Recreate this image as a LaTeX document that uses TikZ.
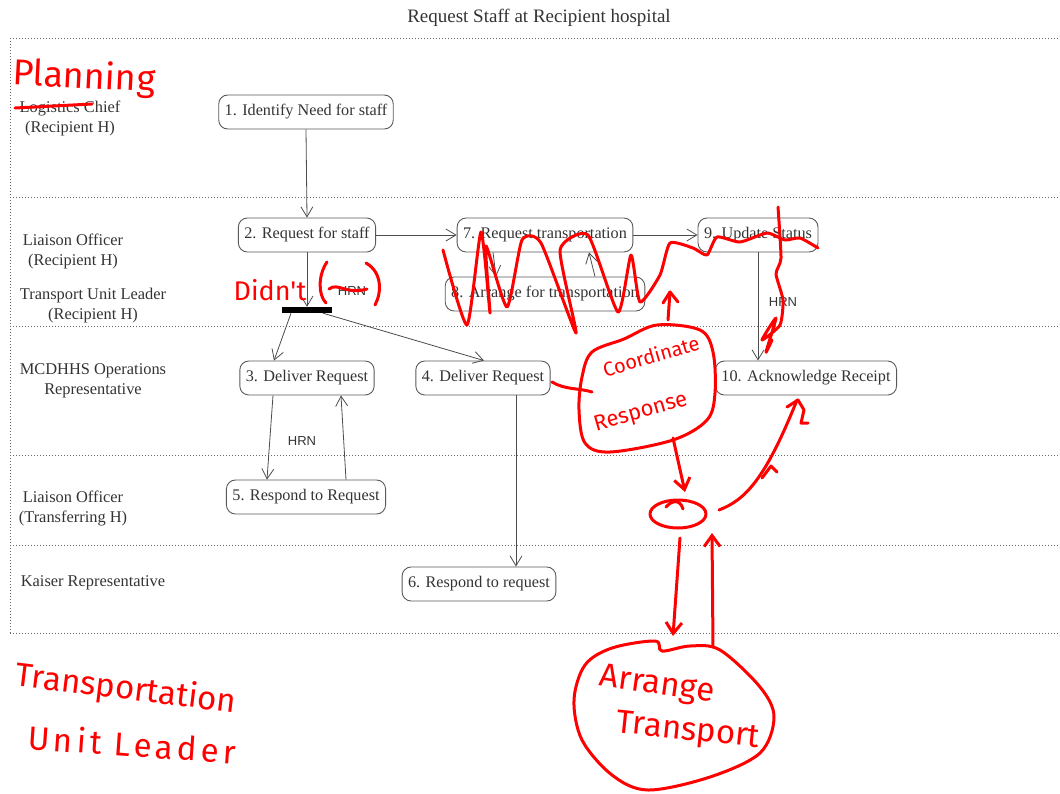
\documentclass[tikz,border=0pt]{standalone}
\usepackage{fontspec}
\setmainfont{Liberation Serif}
\setsansfont{Liberation Sans}
\newfontfamily\penfont{Fira Sans}
\usetikzlibrary{arrows.meta}

\begin{document}
\begin{tikzpicture}[x=1pt,y=-1pt,
  lane/.style={draw=black!60, line width=0.9pt, dash pattern={on 1pt off 2pt}},
  activity/.style={draw=black!65, line width=0.9pt, rounded corners=9pt,
    minimum height=34pt, inner xsep=6pt, text=black!80,
    font=\fontsize{16.2}{18}\selectfont},
  role/.style={align=center, text=black!80, font=\fontsize{16.4}{20}\selectfont},
  flow/.style={draw=black!70, line width=0.8pt,
    -{Straight Barb[length=10pt,width=12pt,line width=0.8pt]}},
  tag/.style={text=black!80, font=\sffamily\fontsize{13}{14}\selectfont},
  pen/.style={draw=red, line width=3pt, line cap=round, line join=round},
  penarrow/.style={pen, -{Straight Barb[length=11pt,width=16pt,line width=3pt]}},
  pentext/.style={text=red, font=\penfont\fontsize{33}{34}\selectfont},
]
\useasboundingbox (0,0) rectangle (1060,793);

% title
\node[font=\fontsize{19}{21}\selectfont, text=black!80] (title) at (539,18)
  {Request Staff at Recipient hospital};

% swimlane frame
\draw[lane] (10,38) -- (1060,38);
\draw[lane] (10,38) -- (10,633);
\foreach \yy in {197,326,455,545,633}
  \draw[lane] (10,\yy) -- (1060,\yy);

% roles
\node[role] (rLog) at (70,118) {Logistics Chief\\(Recipient H)};
\node[role] (rLiaR) at (73,251) {Liaison Officer\\(Recipient H)};
\node[role] (rTul) at (93,306) {Transport Unit Leader\\(Recipient H)};
\node[role] (rMcd) at (93,381) {MCDHHS Operations\\Representative};
\node[role] (rLiaT) at (73,508) {Liaison Officer\\(Transferring H)};
\node[role] (rKai) at (93,583) {Kaiser Representative};

% activities
\node[activity] (n1) at (306,112) {1. Identify Need for staff};
\node[activity] (n2) at (307,235) {2. Request for staff};
\node[activity] (n7) at (545,235) {7. Request transportation};
\node[activity] (n9) at (758,235) {9. Update Status};
\node[activity] (n8) at (545,294) {8. Arrange for transportation};
\node[activity] (n3) at (307,378) {3. Deliver Request};
\node[activity] (n4) at (483,378) {4. Deliver Request};
\node[activity] (n10) at (806,378) {10. Acknowledge Receipt};
\node[activity] (n5) at (306,497) {5. Respond to Request};
\node[activity] (n6) at (479,584) {6. Respond to request};

% fork bar
\node[fill=black, minimum width=50pt, minimum height=6pt, inner sep=0pt] (bar) at (307,310) {};

% flows
\draw[flow] (n1.south) -- (n2.north);
\draw[flow] (n2.south) -- (bar.north);
\node[tag] (hrn1) at (352,291) {HRN};
\draw[flow] ([xshift=-16pt]bar.south) -- ([xshift=-33pt]n3.north);
\draw[flow] ([xshift=16pt]bar.south) -- ([xshift=1pt]n4.north);
\draw[flow] (n2.east) -- (n7.west);
\draw[flow] (n7.east) -- (n9.west);
\draw[flow] ([xshift=-52pt]n7.south) -- ([xshift=-49pt]n8.north);
\draw[flow] ([xshift=50pt]n8.north) -- ([xshift=44pt]n7.south);
\draw[flow] (n9.south) -- ([xshift=-48pt]n10.north);
\node[tag] (hrn2) at (783,302) {HRN};
\draw[flow] ([xshift=-34pt]n3.south) -- ([xshift=-39pt]n5.north);
\draw[flow] ([xshift=40pt]n5.north) -- ([xshift=34pt]n3.south);
\node[tag] (hrn3) at (302,441) {HRN};
\draw[flow] ([xshift=33pt]n4.south) -- ([xshift=37pt]n6.north);

% ---- red pen markup ----
\node[pentext, font=\penfont\fontsize{36}{38}\selectfont, rotate=-3] (planning) at (84,78) {Planning};
\draw[pen] (15,108) -- (92,104);

\node[pentext, font=\penfont\fontsize{27}{28}\selectfont] (didnt) at (270,290) {Didn't};
\draw[pen] (327,262) .. controls (318,275) and (318,295) .. (326,303);
\draw[pen] (366,263) .. controls (382,272) and (382,292) .. (375,305);
\draw[pen] (329,289) .. controls (338,282) and (346,295) .. (367,289);

% scribble over steps 7 and 8, running on through step 9
\draw[pen] plot[smooth, tension=0.35] coordinates {
  (443,250) (467,325) (481,232) (490,313) (486,246) (507,307) (522,240)
  (541,243) (576,333) (560,250) (588,235) (618,312) (631,255) (640,302)
  (660,275) (670,243) (693,248) (707,255) (717,237) (740,242) (767,233)
  (785,240) (800,238) (818,248)};
\draw[pen] plot[smooth, tension=0.35] coordinates {
  (778,207) (781,258) (776,274) (783,300) (780,325) (762,340) (776,318)
  (766,352) (772,340)};

% small upward tick-arrow
\draw[pen] (668,320) -- (670,292);
\draw[pen] (663,303) -- (670,292) -- (678,302);

% Coordinate Response cloud
\draw[pen] plot[smooth cycle, tension=0.55] coordinates {
  (657,325) (700,330) (713,352) (715,393) (707,420) (673,440) (610,452)
  (585,443) (579,410) (582,377) (592,352) (624,339)};
\node[pentext, font=\penfont\fontsize{20}{22}\selectfont, rotate=16] (coord) at (651,356) {Coordinate};
\node[pentext, font=\penfont\fontsize{22}{24}\selectfont, rotate=16] (resp) at (641,413) {Response};
\draw[pen] (552,382) .. controls (565,390) and (580,388) .. (592,392);

% down to the small circle
\draw[penarrow] (673,438) -- (685,492);
\draw[pen] (678,514) ellipse [x radius=28, y radius=14];
\draw[pen] (666,507) .. controls (672,500) and (680,499) .. (683,509);

% towards step 10
\draw[pen] (719,510) .. controls (745,500) and (765,480) .. (797,400);
\draw[pen] (762,478) -- (771,466) -- (777,472);
\draw[pen] (787,407) -- (798,400) -- (804,410) -- (801,423) -- (808,423);

% to and from Arrange Transport
\draw[penarrow] (680,538) -- (673,636);
\draw[penarrow] (713,647) -- (712,533);
\draw[pen] plot[smooth cycle, tension=0.55] coordinates {
  (655,641) (612,648) (585,665) (574,700) (582,740) (612,775) (648,790)
  (710,777) (760,753) (774,717) (760,687) (720,650) (690,646) (662,651)};
\node[pentext, rotate=-8] (arrange) at (657,686) {Arrange};
\node[pentext, rotate=-6] (transport) at (688,732) {Transport};

\node[pentext, rotate=-7] (tul1) at (126,690) {Transportation};
\node[pentext, rotate=-4] (tul2) at (132,744) {\addfontfeature{LetterSpace=12}Unit Leader};
\end{tikzpicture}
\end{document}
